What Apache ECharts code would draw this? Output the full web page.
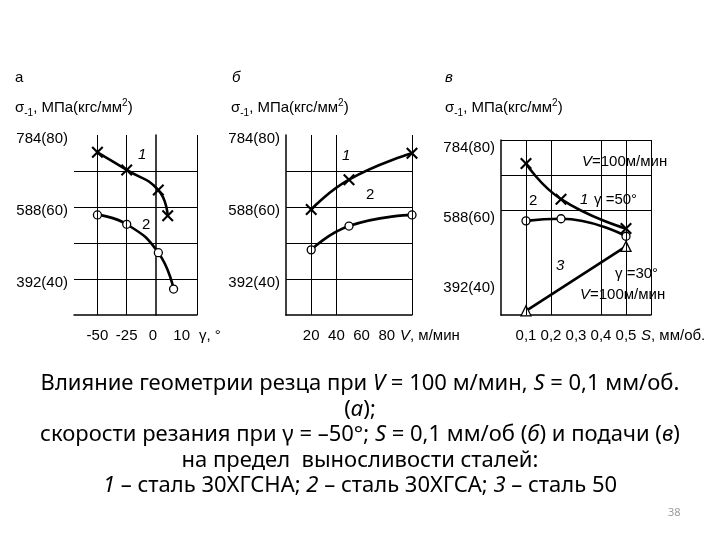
<!DOCTYPE html>
<html>
<head>
<meta charset="utf-8">
<script src="https://cdn.jsdelivr.net/npm/echarts@6/dist/echarts.min.js"></script>
<style>
  html, body { margin: 0; padding: 0; background: #fff; }
  #chart { width: 720px; height: 540px; }
</style>
</head>
<body>
<div id="chart"></div>
<script>
// данные (кгс/мм2), считаны с рисунка
// а: влияние переднего угла
const gammaA1 = [-50, -25, 2, 10];
const sigmaA1 = [75.2, 70.3, 64.7, 57.6];
const gammaA2 = [-50, -25, 2, 15];
const sigmaA2 = [57.8, 55.2, 47.3, 37.2];
// б: влияние скорости резания
const speedB = [20, 50, 100];
const sigmaB1 = [59.3, 67.6, 74.9];
const sigmaB2 = [48.1, 54.7, 57.8];
// в: влияние подачи
const feedC = [0.1, 0.24, 0.5];
const sigmaC1 = [73.3, 63.1, 54.7];
const sigmaC2 = [56.9, 57.5, 52.5];
const feedC3 = [0.1, 0.5];
const sigmaC3 = [31.2, 49.6];

// подписи делений
const yTicks = [40, 60, 80];
const xTicksA = [-50, -25, 0, 10];
const xTicksB = [20, 40, 60, 80];
const xTicksC = [0.1, 0.2, 0.3, 0.4, 0.5];

const FONT = 'Liberation Sans';
const CROSS = 'path://M0,1.5L1.5,0L6,4.5L10.5,0L12,1.5L7.5,6L12,10.5L10.5,12L6,7.5L1.5,12L0,10.5L4.5,6Z';

function pairs(xs, ys) { return xs.map((x, i) => [x, ys[i]]); }
function has(list, v) { return list.some(t => Math.abs(t - v) < 1e-6); }

let chart = echarts.init(document.getElementById('chart'));

function xAxisOf(idx, min, max, interval, ticks, fmt, rich) {
  return {
    type: 'value', gridIndex: idx, min: min, max: max, interval: interval,
    axisLine: { show: true, lineStyle: { color: '#000', width: 1.5 } },
    axisTick: { show: false },
    splitLine: { show: false },
    axisLabel: {
      interval: 0, margin: 13, color: '#000', fontFamily: FONT, fontSize: 15,
      formatter: v => has(ticks, v) ? fmt(v) : '',
      rich: rich || {}
    }
  };
}
// подписи чуть ниже линий, как в оригинале
function yAxisOf(idx, shift) {
  return {
    type: 'value', gridIndex: idx, min: 30, max: 80, interval: 10,
    axisLine: { show: true, lineStyle: { color: '#000', width: 1.5 } },
    axisTick: { show: false },
    splitLine: { show: false },
    axisLabel: {
      margin: 6, color: '#000', fontFamily: FONT, fontSize: 15,
      verticalAlign: 'top', lineHeight: shift * 2,
      formatter: v => has(yTicks, v) ? Math.round(v * 9.8) + '(' + v + ')' : ''
    }
  };
}
function gridLines(xs, ys) {
  return {
    silent: true, symbol: 'none', animation: false,
    label: { show: false },
    lineStyle: { color: '#000', width: 1, type: 'solid' },
    data: xs.map(v => ({ xAxis: v })).concat(ys.map(v => ({ yAxis: v })))
  };
}
function curve(idx, data, symbol, size, lines) {
  let s = {
    type: 'line', xAxisIndex: idx, yAxisIndex: idx, data: data,
    smooth: 0.5, symbol: symbol, symbolSize: size, showSymbol: true,
    lineStyle: { color: '#000', width: 2.6 },
    itemStyle: symbol === 'circle' || symbol === 'triangle'
      ? { color: '#fff', borderColor: '#000', borderWidth: 1.3 }
      : { color: '#000', borderWidth: 0 },
    z: 3
  };
  if (lines) s.markLine = lines;
  return s;
}
function txt(x, y, text, extra) {
  return {
    type: 'text', x: x, y: y, z: 10,
    style: Object.assign({
      text: text, fill: '#000', fontFamily: FONT, fontSize: 15,
      align: 'left', verticalAlign: 'middle'
    }, extra || {})
  };
}
const sigmaRich = {
  s: { fontFamily: FONT, fontSize: 15, lineHeight: 20 },
  sub: { fontFamily: FONT, fontSize: 10, lineHeight: 11, verticalAlign: 'bottom' },
  sup: { fontFamily: FONT, fontSize: 10, lineHeight: 12, verticalAlign: 'top' }
};
const sigmaText = '{s|σ}{sub|-1}{s|, МПа(кгс/мм}{sup|2}{s|)}';
const italic = { i: { fontFamily: FONT, fontSize: 15, fontStyle: 'italic' } };
const CAP = 'Noto Sans';
const CAP_SIZE = 22;
const capRich = {
  i: { fontFamily: CAP, fontSize: CAP_SIZE, fontStyle: 'italic', lineHeight: 25.5 }
};
// подписи оси а разнесены как на оригинале
const richA = {
  z: { fontFamily: FONT, fontSize: 15, color: '#000', padding: [0, 6, 0, 0] },
  t: { fontFamily: FONT, fontSize: 15, color: '#000', padding: [0, 0, 0, 28] }
};
function fmtA(v) {
  if (v === 0) return '{z|0}';
  if (v === 10) return '{t|10}';
  return String(v);
}

chart.setOption({
  animation: false,
  grid: [
    { left: 74, top: 135, width: 123, height: 180 },
    { left: 286, top: 135, width: 126, height: 180 },
    { left: 501, top: 140, width: 150, height: 175 }
  ],
  xAxis: [
    xAxisOf(0, -70, 35, 5, xTicksA, fmtA, richA),
    xAxisOf(1, 0, 100, 20, xTicksB, v => String(v)),
    xAxisOf(2, 0, 0.6, 0.1, xTicksC, v => v.toFixed(1).replace('.', ','))
  ],
  yAxis: [yAxisOf(0, 4), yAxisOf(1, 4), yAxisOf(2, 8)],
  series: [
    curve(0, pairs(gammaA1, sigmaA1), CROSS, 12, gridLines([-50, -25, 35], [40, 50, 60, 70])),
    curve(0, pairs(gammaA2, sigmaA2), 'circle', 8),
    curve(1, pairs(speedB, sigmaB1), CROSS, 12, gridLines([20, 40, 100], [40, 50, 60, 70])),
    curve(1, pairs(speedB, sigmaB2), 'circle', 8),
    curve(2, pairs(feedC, sigmaC1), CROSS, 12, gridLines([0.1, 0.2, 0.4, 0.5, 0.6], [60, 70, 80])),
    curve(2, pairs(feedC, sigmaC2), 'circle', 8),
    curve(2, pairs(feedC3, sigmaC3), 'triangle', 10)
  ],
  graphic: [
    // заголовки
    txt(15, 78, 'а'),
    txt(232, 78, 'б', { fontStyle: 'italic' }),
    txt(445, 78, 'в', { fontStyle: 'italic' }),
    txt(15, 108, sigmaText, { rich: sigmaRich }),
    txt(231, 108, sigmaText, { rich: sigmaRich }),
    txt(445, 108, sigmaText, { rich: sigmaRich }),
    // названия осей
    txt(199, 336, 'γ, °'),
    txt(400, 336, '{i|V}, м/мин', { rich: italic }),
    txt(641, 336, '{i|S}, мм/об.', { rich: italic }),
    // номера кривых и пояснения
    txt(138, 155, '1', { fontStyle: 'italic' }),
    txt(142, 225, '2'),
    txt(342, 156, '1', { fontStyle: 'italic' }),
    txt(366, 195, '2'),
    txt(582, 162, '{i|V}=100м/мин', { rich: italic }),
    txt(580, 200, '1', { fontStyle: 'italic' }),
    txt(594, 200, 'γ =50°'),
    txt(529, 201, '2'),
    txt(556, 266, '3', { fontStyle: 'italic' }),
    txt(615, 274, 'γ =30°'),
    txt(580, 295, '{i|V}=100м/мин', { rich: italic }),
    // подпись
    txt(360, 371,
      'Влияние геометрии резца при {i|V} = 100 м/мин, {i|S} = 0,1 мм/об.\n' +
      '({i|а});\n' +
      'скорости резания при γ = –50°; {i|S} = 0,1 мм/об ({i|б}) и подачи ({i|в})\n' +
      'на предел  выносливости сталей:\n' +
      '{i|1} – сталь 30ХГСНА; {i|2} – сталь 30ХГСА; {i|3} – сталь 50',
      { fontFamily: CAP, fontSize: CAP_SIZE, lineHeight: 25.5, align: 'center', verticalAlign: 'top', rich: capRich }),
    txt(668, 513, '38', { fontFamily: CAP, fontSize: 11, fill: '#9a9a9a' })
  ]
});
</script>
</body>
</html>
